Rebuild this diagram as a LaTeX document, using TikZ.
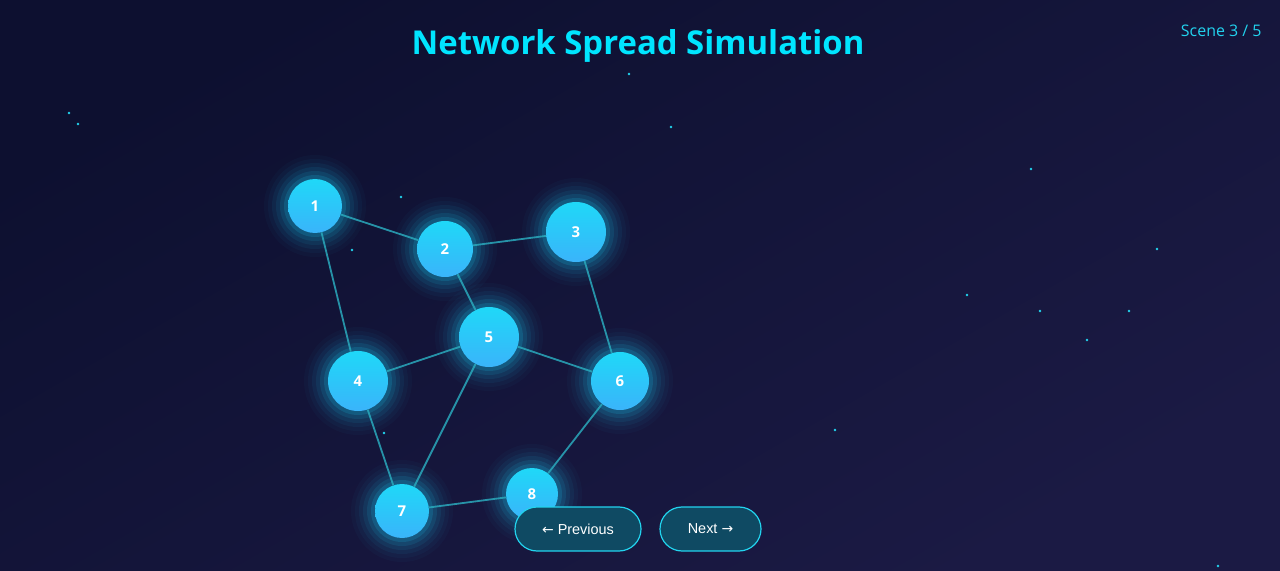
\documentclass[tikz,border=0pt]{standalone}
\usepackage{fontspec}
\setmainfont{Open Sans}
\newfontfamily\btnfont{Liberation Sans}
\newfontfamily\symfont{DejaVu Sans}
\definecolor{bgA}{HTML}{0D1030}
\definecolor{bgB}{HTML}{1B1A44}
\definecolor{cyantitle}{HTML}{00E5FF}
\definecolor{scenec}{HTML}{22D3EE}
\definecolor{nodetop}{HTML}{1FD8F8}
\definecolor{nodebot}{HTML}{3AB4FA}
\definecolor{glowc}{HTML}{18C8F0}
\definecolor{edgec}{HTML}{2AA9BC}
\definecolor{starc}{HTML}{22D3EE}
\definecolor{btnfill}{HTML}{0F4A63}
\definecolor{btnline}{HTML}{22D3EE}
\tikzset{
  netnode/.style={circle, minimum size=#1, inner sep=0pt, top color=nodetop, bottom color=nodebot, draw=none, text=white, font=\bfseries\fontsize{15}{15}\selectfont},
  netedge/.style={draw=edgec, line width=1.8bp, opacity=0.85},
  star/.style={fill=starc},
  btn/.style={rounded corners=22bp, fill=btnfill, draw=btnline, line width=1.2bp, text=white, font=\btnfont\fontsize{14.5}{14.5}\selectfont, minimum height=44bp, inner sep=0pt},
}
\newcommand{\glow}[3]{%
  \foreach \k/\op in {24/0.03,20/0.04,16/0.06,12/0.08,8/0.11,4/0.16}{%
    \fill[glowc, opacity=\op] (#1,#2) circle ({#3+\k});}%
}
\newcommand{\arr}[1]{{\symfont\fontsize{14}{14}\selectfont #1}}
\begin{document}
\begin{tikzpicture}[x=1bp,y=-1bp]
\useasboundingbox (0,0) rectangle (1280,571);
\shade[top color=bgA, bottom color=bgB, shading angle=30] (0,0) rectangle (1280,571);
% stars
\foreach \sx/\sy in {69/113,78/124,629/74,671/127,401/197,352/250,1031/169,1157/249,967/295,1040/311,1129/311,1087/340,835/430,384/433,1218/566}{
  \fill[star] (\sx,\sy) circle (1.4);}
% title
\node[font=\bfseries\fontsize{33}{33}\selectfont, text=cyantitle] (title) at (638,46) {Network Spread Simulation};
\node[font=\fontsize{16}{16}\selectfont, text=scenec, anchor=east] (scene) at (1265,31) {Scene 3 / 5};
% glows
\glow{315}{206}{27}
\glow{445}{249}{28}
\glow{576}{232}{30}
\glow{358}{381}{30}
\glow{489}{337}{30}
\glow{620}{381}{29}
\glow{402}{511}{27}
\glow{532}{494}{26}
% nodes
\node[netnode=54bp] (n1) at (315,206) {1};
\node[netnode=56bp] (n2) at (445,249) {2};
\node[netnode=60bp] (n3) at (576,232) {3};
\node[netnode=60bp] (n4) at (358,381) {4};
\node[netnode=60bp] (n5) at (489,337) {5};
\node[netnode=58bp] (n6) at (620,381) {6};
\node[netnode=54bp] (n7) at (402,511) {7};
\node[netnode=52bp] (n8) at (532,494) {8};
% edges
\draw[netedge] (n1) -- (n2);
\draw[netedge] (n2) -- (n3);
\draw[netedge] (n1) -- (n4);
\draw[netedge] (n2) -- (n5);
\draw[netedge] (n3) -- (n6);
\draw[netedge] (n4) -- (n5);
\draw[netedge] (n5) -- (n6);
\draw[netedge] (n4) -- (n7);
\draw[netedge] (n5) -- (n7);
\draw[netedge] (n6) -- (n8);
\draw[netedge] (n7) -- (n8);
% buttons
\node[btn, minimum width=126bp] (prev) at (578,529) {\arr{←} Previous};
\node[btn, minimum width=101bp] (next) at (710.5,529) {Next \arr{→}};
\end{tikzpicture}
\end{document}
